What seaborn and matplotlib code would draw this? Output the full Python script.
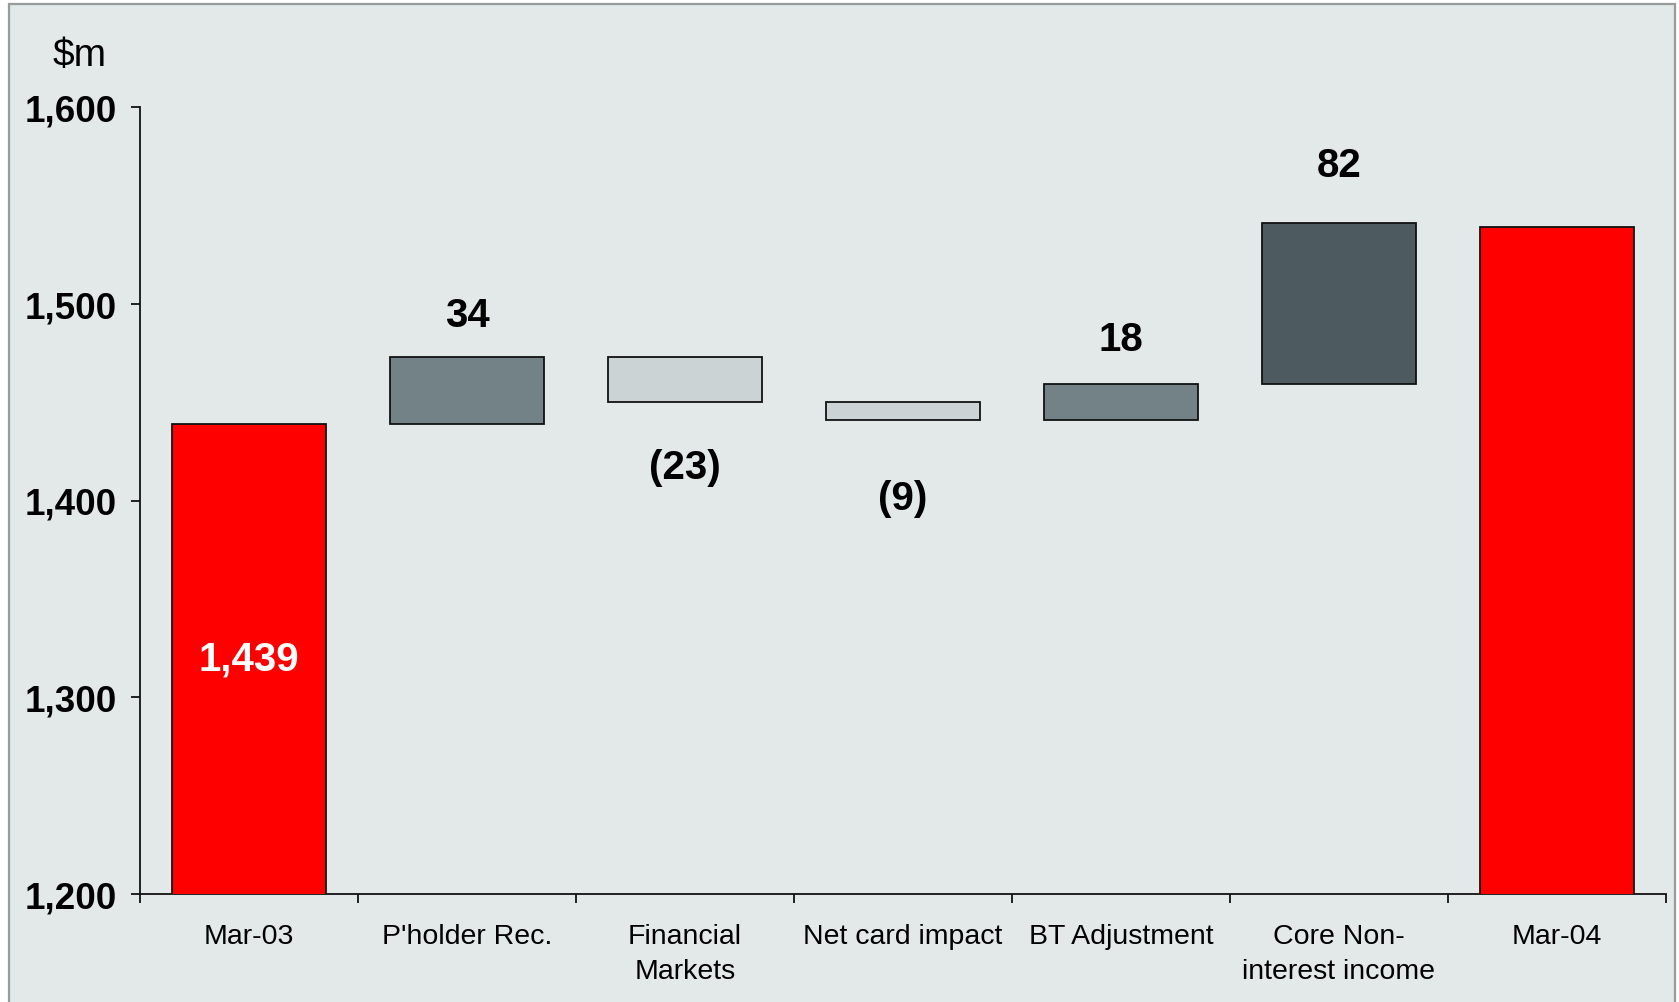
import matplotlib
matplotlib.use("Agg")
import matplotlib.pyplot as plt
import matplotlib.patches as mpatches
import numpy as np
import pandas as pd
import seaborn as sns

# Non-interest income bridge, $m
categories = ["Mar-03", "P'holder Rec.", "Financial\nMarkets", "Net card impact",
              "BT Adjustment", "Core Non-\ninterest income", "Mar-04"]
opening = 1439
changes = [34, -23, -9, 18, 82]
closing = 1539
y_ticks = [1200, 1300, 1400, 1500, 1600]

bar_colors = ["#FF0000", "#738286", "#CBD3D5", "#CBD3D5", "#738286", "#4D5A60", "#FF0000"]
label_gap_pt = [30, 47, 56, 33, 42]  # distance of each step label from its bar
bg = "#E3E9E9"

# Waterfall geometry: totals start at zero, steps float on the running total
running = [opening]
for c in changes:
    running.append(running[-1] + c)
bottoms = [0] + [min(running[i], running[i + 1]) for i in range(len(changes))] + [0]
heights = [opening] + [abs(c) for c in changes] + [closing]

df = pd.DataFrame({"category": categories, "height": heights})
df["category"] = pd.Categorical(df["category"], categories=categories, ordered=True)

sns.set_theme(style="white")
plt.rcParams["font.family"] = ["Liberation Sans", "DejaVu Sans"]
plt.rcParams["text.color"] = "black"
plt.rcParams["xtick.color"] = "black"
plt.rcParams["ytick.color"] = "black"
plt.rcParams["axes.labelcolor"] = "black"

fig = plt.figure(figsize=(16.79, 10.03), dpi=100)
fig.patch.set_facecolor("white")
panel = mpatches.Rectangle((9 / 1679, -0.05), (1675 - 9) / 1679, 1.05 - 5 / 1003,
                           transform=fig.transFigure, facecolor=bg,
                           edgecolor="#9A9A9A", linewidth=1.6, zorder=-10)
fig.patches.append(panel)

ax = fig.add_axes([140 / 1679, 1 - 895 / 1003, (1666 - 140) / 1679, (895 - 108) / 1003])
ax.set_facecolor("none")
ax.set_zorder(5)

sns.barplot(data=df, x="category", y="height", bottom=bottoms, width=0.71,
            color="#738286", edgecolor="#111111", linewidth=1.3, saturation=1,
            ax=ax, zorder=3)
for patch, col in zip(ax.patches, bar_colors):
    patch.set_facecolor(col)

ax.set_xlim(-0.5, len(categories) - 0.5)
ax.set_ylim(y_ticks[0], y_ticks[-1])
ax.set_yticks(y_ticks)
ax.set_yticklabels([f"{v:,}" for v in y_ticks], fontsize=26.5, fontweight="bold")
ax.set_xticks(range(len(categories)))
ax.set_xticklabels(categories, fontsize=20.5, linespacing=1.45)
ax.set_xticks(np.arange(-0.5, len(categories), 1.0), minor=True)
ax.set_xlabel("")
ax.set_ylabel("")

for s in ["top", "right"]:
    ax.spines[s].set_visible(False)
for s in ["left", "bottom"]:
    ax.spines[s].set_color("#111111")
    ax.spines[s].set_linewidth(1.3)

ax.tick_params(axis="y", direction="out", length=6.5, width=1.3, color="#111111", pad=10, left=True)
ax.tick_params(axis="x", which="major", length=0, pad=21)
ax.tick_params(axis="x", which="minor", direction="out", length=6.5, width=1.3, color="#111111", bottom=True)

# Value labels
for i, (c, gap) in enumerate(zip(changes, label_gap_pt), start=1):
    if c >= 0:
        ax.annotate(f"{c:,}", (i, bottoms[i] + heights[i]), xytext=(0, gap),
                    textcoords="offset points", ha="center", va="center",
                    fontsize=29, fontweight="bold", color="black")
    else:
        ax.annotate(f"({abs(c):,})", (i, bottoms[i]), xytext=(0, -gap),
                    textcoords="offset points", ha="center", va="center",
                    fontsize=29, fontweight="bold", color="black")
ax.text(0, (y_ticks[0] + opening) / 2, f"{opening:,}", ha="center", va="center",
        fontsize=29, fontweight="bold", color="white", zorder=5)

fig.text(80 / 1679, 1 - 56 / 1003, r"\$m", ha="center", va="center", fontsize=28, color="black")

fig.savefig("out.png", dpi=100, facecolor=fig.get_facecolor())
